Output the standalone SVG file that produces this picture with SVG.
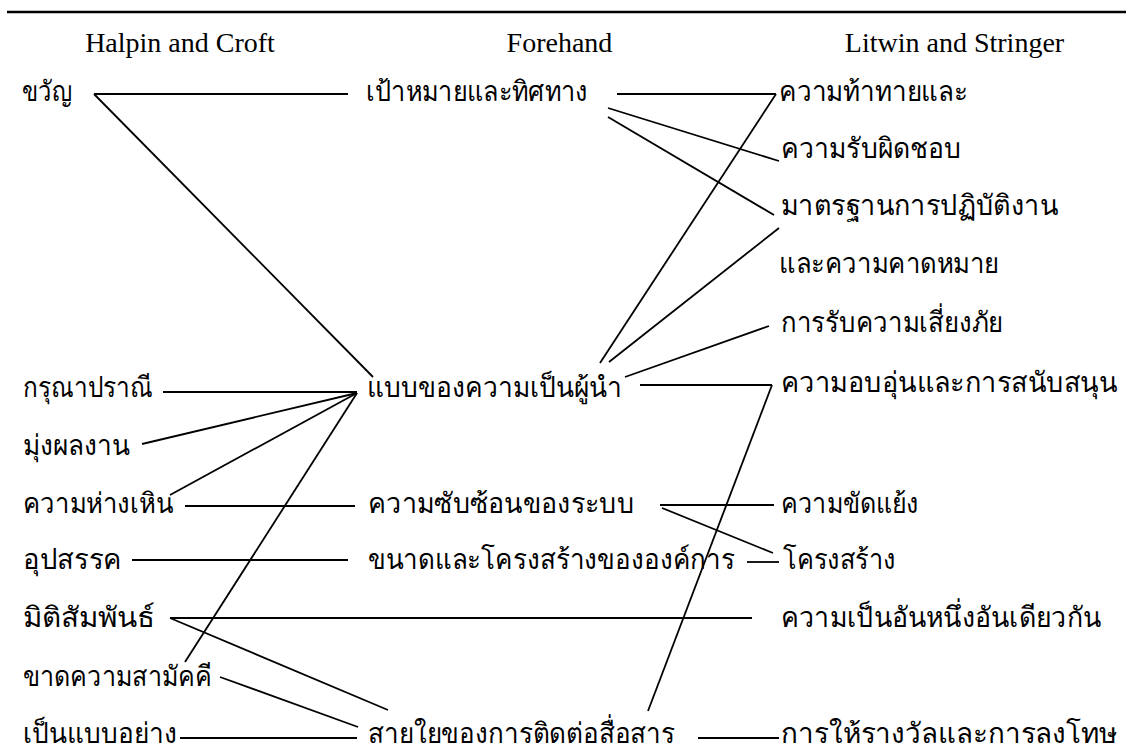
<svg xmlns="http://www.w3.org/2000/svg" width="1126" height="747" viewBox="0 0 1126 747">
<style>
.h{font-family:'Liberation Serif',serif;font-size:28px;fill:#000;text-anchor:middle}
.t{font-family:'Liberation Serif',serif;font-size:28px;fill:#000}
.c line{stroke:#000;stroke-width:1.8;fill:none}
</style>
<rect width="1126" height="747" fill="#fff"/>
<line x1="7" y1="12" x2="1126" y2="12" stroke="#000" stroke-width="2.5"/>
<g id="headers">
<text class="h" x="180" y="52">Halpin and Croft</text>
<text class="h" x="559.5" y="52">Forehand</text>
<text class="h" x="954.5" y="52">Litwin and Stringer</text>
</g>
<g class="c" id="connectors">
<line x1="94" y1="94" x2="348" y2="94"/>
<line x1="94" y1="94" x2="373" y2="377"/>
<line x1="163" y1="392" x2="357" y2="392"/>
<line x1="142" y1="444" x2="357" y2="393"/>
<line x1="170" y1="495" x2="357" y2="393"/>
<line x1="185" y1="662" x2="357" y2="393"/>
<line x1="185" y1="506" x2="355" y2="506"/>
<line x1="132" y1="560" x2="348" y2="560"/>
<line x1="170" y1="618" x2="752" y2="618"/>
<line x1="170" y1="618" x2="388" y2="710"/>
<line x1="220" y1="677" x2="358" y2="727"/>
<line x1="180" y1="738" x2="357" y2="738"/>
<line x1="617" y1="94" x2="776" y2="94"/>
<line x1="776" y1="94" x2="600" y2="363"/>
<line x1="608" y1="108" x2="779" y2="161"/>
<line x1="608" y1="117" x2="774" y2="215"/>
<line x1="779" y1="228" x2="609" y2="362"/>
<line x1="625" y1="377" x2="769" y2="326"/>
<line x1="640" y1="385" x2="772" y2="385"/>
<line x1="772" y1="385" x2="648" y2="711"/>
<line x1="660" y1="505" x2="774" y2="505"/>
<line x1="662" y1="508" x2="773" y2="553"/>
<line x1="747" y1="562" x2="779" y2="562"/>
<line x1="698" y1="738" x2="779" y2="738"/>
</g>
<g id="n-kwan"><text class="t" x="22" y="101" textLength="50" lengthAdjust="spacingAndGlyphs">ขวัญ</text></g>
<g id="n-karuna"><text class="t" x="23" y="397" textLength="130" lengthAdjust="spacingAndGlyphs">กรุณาปราณี</text></g>
<g id="n-mung"><text class="t" x="23" y="455" textLength="107" lengthAdjust="spacingAndGlyphs">มุ่งผลงาน</text></g>
<g id="n-hang"><text class="t" x="23" y="513" textLength="150" lengthAdjust="spacingAndGlyphs">ความห่างเหิน</text></g>
<g id="n-upasak"><text class="t" x="23" y="569" textLength="99" lengthAdjust="spacingAndGlyphs">อุปสรรค</text></g>
<g id="n-mitti"><text class="t" x="23" y="627" textLength="132" lengthAdjust="spacingAndGlyphs">มิติสัมพันธ์</text></g>
<g id="n-khat"><text class="t" x="23" y="686" textLength="189" lengthAdjust="spacingAndGlyphs">ขาดความสามัคคี</text></g>
<g id="n-pen"><text class="t" x="23" y="743" textLength="154" lengthAdjust="spacingAndGlyphs">เป็นแบบอย่าง</text></g>
<g id="n-pao"><text class="t" x="366" y="101" textLength="222" lengthAdjust="spacingAndGlyphs">เป้าหมายและทิศทาง</text></g>
<g id="n-baep"><text class="t" x="367" y="397" textLength="255" lengthAdjust="spacingAndGlyphs">แบบของความเป็นผู้นำ</text></g>
<g id="n-sap"><text class="t" x="368" y="513" textLength="266" lengthAdjust="spacingAndGlyphs">ความซับซ้อนของระบบ</text></g>
<g id="n-khanat"><text class="t" x="368" y="569" textLength="367" lengthAdjust="spacingAndGlyphs">ขนาดและโครงสร้างขององค์การ</text></g>
<g id="n-saiyai"><text class="t" x="368" y="743" textLength="307" lengthAdjust="spacingAndGlyphs">สายใยของการติดต่อสื่อสาร</text></g>
<g id="n-thathai"><text class="t" x="779" y="101" textLength="189" lengthAdjust="spacingAndGlyphs">ความท้าทายและ</text></g>
<g id="n-rap"><text class="t" x="781" y="158" textLength="180" lengthAdjust="spacingAndGlyphs">ความรับผิดชอบ</text></g>
<g id="n-matrathan"><text class="t" x="781" y="215" textLength="277" lengthAdjust="spacingAndGlyphs">มาตรฐานการปฏิบัติงาน</text></g>
<g id="n-khatmai"><text class="t" x="779" y="273" textLength="220" lengthAdjust="spacingAndGlyphs">และความคาดหมาย</text></g>
<g id="n-siang"><text class="t" x="781" y="332" textLength="222" lengthAdjust="spacingAndGlyphs">การรับความเสี่ยงภัย</text></g>
<g id="n-obun"><text class="t" x="781" y="392" textLength="336" lengthAdjust="spacingAndGlyphs">ความอบอุ่นและการสนับสนุน</text></g>
<g id="n-khatyaeng"><text class="t" x="781" y="513" textLength="138" lengthAdjust="spacingAndGlyphs">ความขัดแย้ง</text></g>
<g id="n-khrongsang"><text class="t" x="783" y="569" textLength="113" lengthAdjust="spacingAndGlyphs">โครงสร้าง</text></g>
<g id="n-nueng"><text class="t" x="781" y="627" textLength="320" lengthAdjust="spacingAndGlyphs">ความเป็นอันหนึ่งอันเดียวกัน</text></g>
<g id="n-rangwan"><text class="t" x="781" y="743" textLength="336" lengthAdjust="spacingAndGlyphs">การให้รางวัลและการลงโทษ</text></g>
</svg>
